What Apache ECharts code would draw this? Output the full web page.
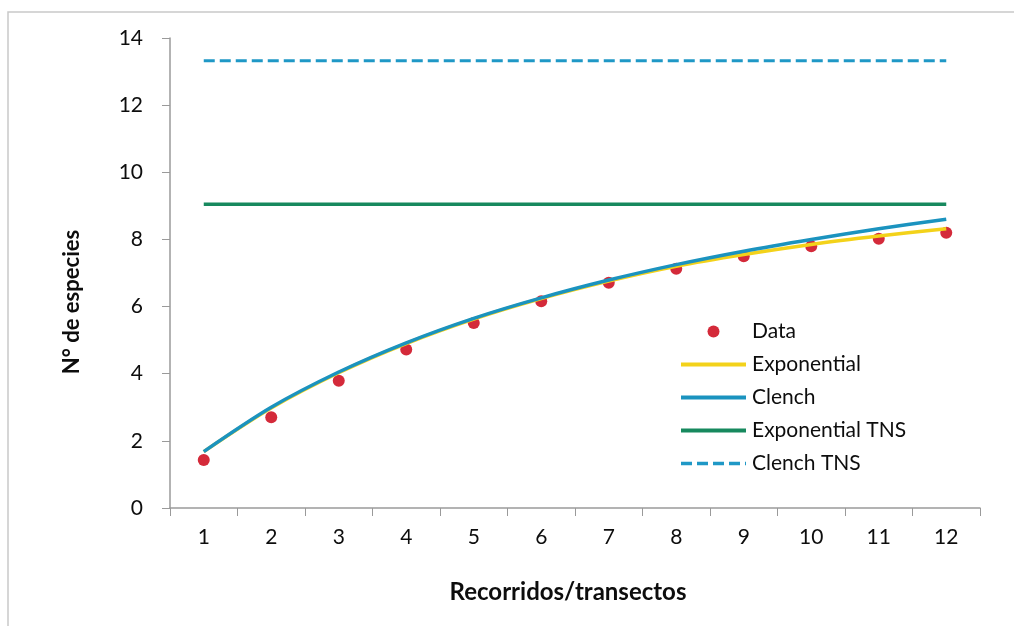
<!DOCTYPE html>
<html>
<head>
<meta charset="utf-8">
<title>Curvas de acumulación de especies</title>
<script src="https://cdn.jsdelivr.net/npm/echarts@6/dist/echarts.min.js"></script>
<style>
  html, body { margin: 0; padding: 0; background: #ffffff; }
  #chart { width: 1014px; height: 626px; }
</style>
</head>
<body>
<div id="chart"></div>
<script>
// Sampling effort (transects walked)
const categories = ['1', '2', '3', '4', '5', '6', '7', '8', '9', '10', '11', '12'];

// Observed cumulative species count
const observed = [1.43, 2.70, 3.79, 4.72, 5.51, 6.16, 6.71, 7.13, 7.50, 7.80, 8.02, 8.20];

// Fitted accumulation curves
const exponentialFit = [1.68, 2.98, 4.03, 4.90, 5.63, 6.24, 6.76, 7.20, 7.55, 7.85, 8.10, 8.32];
const clenchFit = [1.68, 3.00, 4.05, 4.92, 5.65, 6.26, 6.79, 7.25, 7.65, 8.00, 8.32, 8.60];

// Estimated total number of species (asymptotes)
const exponentialTNS = 9.05;
const clenchTNS = 13.32;

const yTicks = [0, 2, 4, 6, 8, 10, 12, 14];

const FONT = 'Lato, "Open Sans", sans-serif';
const AXIS_GREY = '#9a9a9a';
const TEXT = '#0d0d0d';

const chart = echarts.init(document.getElementById('chart'), null, { renderer: 'canvas' });

// Legend rows for the fitted lines show a plain stroke; the marker is hidden
const lineLegend = (name, width) => ({
  name: name,
  itemStyle: { opacity: 0 },
  lineStyle: { width: width }
});

const option = {
  backgroundColor: '#ffffff',
  animation: false,
  textStyle: { fontFamily: FONT, color: TEXT },
  grid: { left: 170, right: 34, top: 38, bottom: 118, containLabel: false },
  graphic: [
    {
      type: 'rect',
      silent: true,
      z: -10,
      shape: { x: 8, y: 12, width: 1100, height: 700 },
      style: { fill: 'none', stroke: '#c9c9c9', lineWidth: 1.5 }
    },
    {
      type: 'text',
      x: 72,
      y: 302,
      rotation: Math.PI / 2,
      style: {
        text: 'N° de especies',
        font: 'bold 22px ' + FONT,
        fill: TEXT,
        align: 'center',
        verticalAlign: 'middle'
      }
    }
  ],
  legend: {
    orient: 'vertical',
    left: 674,
    top: 316,
    itemWidth: 65,
    itemHeight: 12,
    itemGap: 12,
    textStyle: { fontFamily: FONT, fontSize: 21, color: TEXT, lineHeight: 21, padding: [0, 0, 0, 1] },
    data: [
      { name: 'Data', icon: 'circle' },
      lineLegend('Exponential', 4),
      lineLegend('Clench', 4),
      lineLegend('Exponential TNS', 4),
      lineLegend('Clench TNS', 3.5)
    ]
  },
  xAxis: {
    type: 'category',
    data: categories,
    boundaryGap: true,
    name: 'Recorridos/transectos',
    nameLocation: 'middle',
    nameGap: 72,
    nameTextStyle: { fontFamily: FONT, fontSize: 24, fontWeight: 'bold', color: TEXT, padding: [0, 14, 0, 0] },
    axisLine: { show: true, lineStyle: { color: AXIS_GREY, width: 1.5 } },
    axisTick: { show: true, inside: false, length: 8, lineStyle: { color: AXIS_GREY } },
    axisLabel: { fontFamily: FONT, fontSize: 21, color: TEXT, margin: 19 },
    splitLine: { show: false }
  },
  yAxis: {
    type: 'value',
    min: yTicks[0],
    max: yTicks[yTicks.length - 1],
    interval: 2,
    axisLine: { show: true, lineStyle: { color: AXIS_GREY, width: 1.5 } },
    axisTick: { show: true, inside: false, length: 8, lineStyle: { color: AXIS_GREY } },
    axisLabel: { fontFamily: FONT, fontSize: 21, color: TEXT, margin: 27 },
    splitLine: { show: false }
  },
  series: [
    {
      name: 'Data',
      type: 'scatter',
      data: observed,
      symbol: 'circle',
      symbolSize: 12,
      itemStyle: { color: '#d42a3a', opacity: 1 },
      z: 2
    },
    {
      name: 'Exponential',
      type: 'line',
      data: exponentialFit,
      smooth: 0.3,
      showSymbol: false,
      symbol: 'none',
      itemStyle: { color: '#f3d21a' },
      lineStyle: { color: '#f3d21a', width: 3.5 },
      z: 3
    },
    {
      name: 'Clench',
      type: 'line',
      data: clenchFit,
      smooth: 0.3,
      showSymbol: false,
      symbol: 'none',
      itemStyle: { color: '#1b93bf' },
      lineStyle: { color: '#1b93bf', width: 3.5 },
      z: 4
    },
    {
      name: 'Exponential TNS',
      type: 'line',
      data: categories.map(() => exponentialTNS),
      showSymbol: false,
      symbol: 'none',
      itemStyle: { color: '#17895e' },
      lineStyle: { color: '#17895e', width: 3.5 },
      z: 3
    },
    {
      name: 'Clench TNS',
      type: 'line',
      data: categories.map(() => clenchTNS),
      showSymbol: false,
      symbol: 'none',
      itemStyle: { color: '#1f98c6' },
      lineStyle: { color: '#1f98c6', width: 3, type: [11, 5] },
      z: 3
    }
  ]
};

chart.setOption(option);
</script>
</body>
</html>
